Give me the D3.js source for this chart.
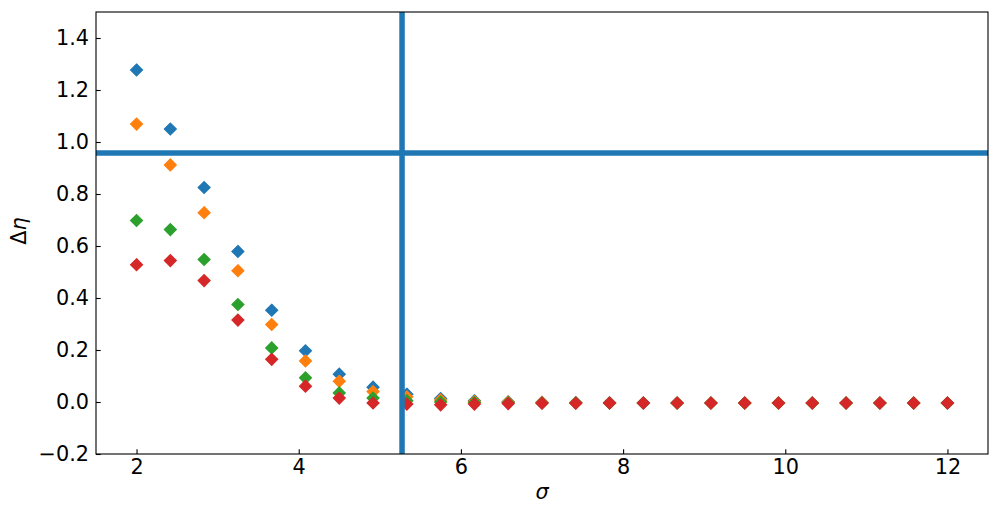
<!DOCTYPE html>
<html>
<head>
<meta charset="utf-8">
<script src="https://cdn.jsdelivr.net/npm/d3@7"></script>
<style>
  html, body { margin: 0; padding: 0; background: #fff; }
  svg { display: block; }
  text { font-family: "DejaVu Sans", sans-serif; fill: #000; }
</style>
</head>
<body>
<svg id="chart" width="999" height="514"></svg>
<script>
// ---- data ----
const sigma = d3.range(25).map(i => 2 + i * 10 / 24);  // 25 evenly spaced sigma values, 2 .. 12
const seriesBlue   = [1.277, 1.050, 0.825, 0.579, 0.353, 0.197, 0.107, 0.057, 0.030, 0.013, 0.005, 0.001, -0.001, -0.002, -0.003, -0.004, -0.004, -0.004, -0.004, -0.004, -0.004, -0.004, -0.004, -0.004, -0.004];
const seriesOrange = [1.069, 0.912, 0.728, 0.505, 0.298, 0.158, 0.080, 0.040, 0.020, 0.008, 0.002, 0.000, -0.002, -0.003, -0.004, -0.004, -0.004, -0.004, -0.004, -0.004, -0.004, -0.004, -0.004, -0.004, -0.004];
const seriesGreen  = [0.698, 0.663, 0.548, 0.375, 0.208, 0.093, 0.035, 0.015, 0.005, 0.000, -0.002, -0.003, -0.004, -0.004, -0.004, -0.004, -0.004, -0.004, -0.004, -0.004, -0.004, -0.004, -0.004, -0.004, -0.004];
const seriesRed    = [0.528, 0.544, 0.467, 0.315, 0.164, 0.061, 0.015, -0.004, -0.008, -0.011, -0.008, -0.006, -0.005, -0.005, -0.004, -0.004, -0.004, -0.004, -0.004, -0.004, -0.004, -0.004, -0.004, -0.004, -0.004];
const seriesColors = ["#1f77b4", "#ff7f0e", "#2ca02c", "#d62728"];
const hLineValue = 0.958;
const vLineValue = 5.274;
const xTicks = [2, 4, 6, 8, 10, 12];
const yTicks = [-0.2, 0.0, 0.2, 0.4, 0.6, 0.8, 1.0, 1.2, 1.4];
const xDomain = [1.5, 12.5];
const yDomain = [-0.2, 1.5];

// ---- layout ----
const svg = d3.select("#chart");
const m = { left: 96, right: 988, top: 12, bottom: 454 };
const x = d3.scaleLinear().domain(xDomain).range([m.left, m.right]);
const y = d3.scaleLinear().domain(yDomain).range([m.bottom, m.top]);

const fmt = d => d3.format(".1f")(d).replace("-", "\u2212");

// markers
const series = [seriesBlue, seriesOrange, seriesGreen, seriesRed];
const r = 5.9;
const diamond = `M0,${-r}L${r},0L0,${r}L${-r},0Z`;
series.forEach((vals, si) => {
  svg.append("g").selectAll("path").data(vals).join("path")
    .attr("d", diamond)
    .attr("transform", (v, i) => `translate(${x(sigma[i])},${y(v)})`)
    .attr("fill", seriesColors[si])
    .attr("stroke", seriesColors[si])
    .attr("stroke-width", 1.3);
});

// reference lines (on top of markers)
svg.append("line")
  .attr("x1", m.left).attr("x2", m.right)
  .attr("y1", y(hLineValue)).attr("y2", y(hLineValue))
  .attr("stroke", "#1f77b4").attr("stroke-width", 5.5);
svg.append("line")
  .attr("x1", x(vLineValue)).attr("x2", x(vLineValue))
  .attr("y1", m.top).attr("y2", m.bottom)
  .attr("stroke", "#1f77b4").attr("stroke-width", 5.5);

// axes
const xAxis = d3.axisBottom(x).tickValues(xTicks).tickFormat(d3.format("d"))
  .tickSize(-4.7).tickPadding(5);
const gx = svg.append("g").attr("transform", `translate(0,${m.bottom})`).call(xAxis);
const yAxis = d3.axisLeft(y).tickValues(yTicks).tickFormat(fmt)
  .tickSize(-4.7).tickPadding(7);
const gy = svg.append("g").attr("transform", `translate(${m.left},0)`).call(yAxis);
[gx, gy].forEach(g => {
  g.select(".domain").remove();
  g.selectAll(".tick line").attr("stroke", "#000").attr("stroke-width", 1.1);
  g.selectAll(".tick text").attr("font-size", 20.8).attr("font-family", "DejaVu Sans").attr("fill", "#000");
});

// frame
svg.append("rect")
  .attr("x", m.left).attr("y", m.top)
  .attr("width", m.right - m.left).attr("height", m.bottom - m.top)
  .attr("fill", "none").attr("stroke", "#000").attr("stroke-width", 1.1);

// axis labels
svg.append("text")
  .attr("x", (m.left + m.right) / 2).attr("y", 499)
  .attr("text-anchor", "middle").attr("font-size", 20.8)
  .attr("font-style", "italic").text("σ");

const yl = svg.append("text")
  .attr("transform", `translate(26,231) rotate(-90)`)
  .attr("text-anchor", "middle").attr("font-size", 20.8);
yl.append("tspan").text("Δ");
yl.append("tspan").attr("font-style", "italic").text("η");
</script>
</body>
</html>
